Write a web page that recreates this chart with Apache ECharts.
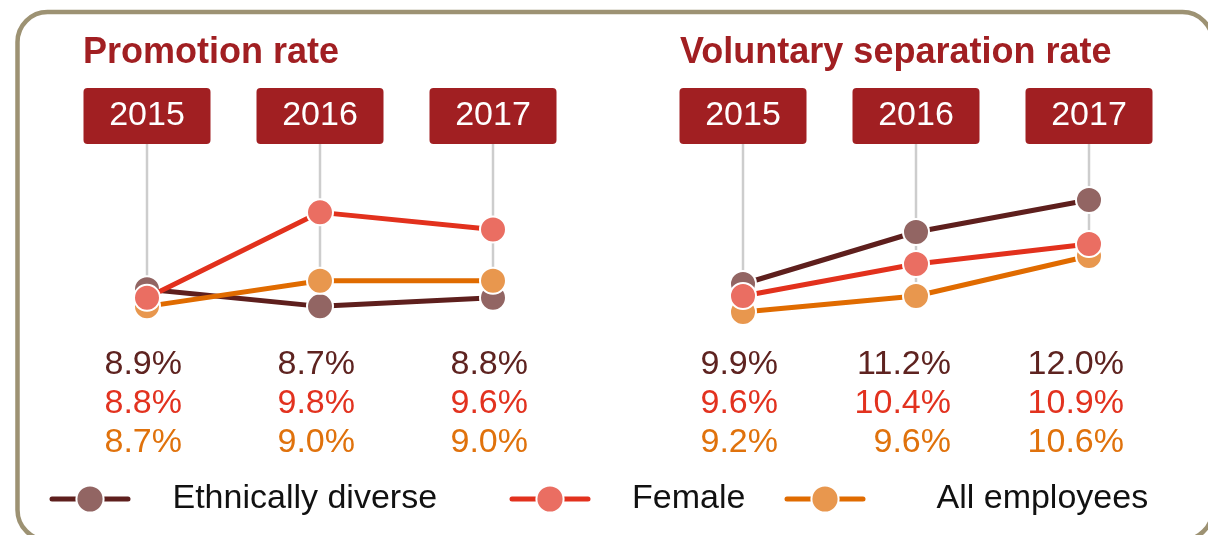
<!DOCTYPE html>
<html>
<head>
<meta charset="utf-8">
<script src="https://cdn.jsdelivr.net/npm/echarts@6.0.0/dist/echarts.min.js"></script>
<style>
  html, body { margin: 0; padding: 0; background: #ffffff; }
  #chart { width: 1208px; height: 535px; }
</style>
</head>
<body>
<div id="chart"></div>
<script>
// ---- data ----
const years = ['2015', '2016', '2017'];
const seriesNames = ['Ethnically diverse', 'Female', 'All employees'];
const panelTitles = ['Promotion rate', 'Voluntary separation rate'];

const promoEthnic = [8.9, 8.7, 8.8];
const promoFemale = [8.8, 9.8, 9.6];
const promoAll    = [8.7, 9.0, 9.0];

const sepEthnic = [9.9, 11.2, 12.0];
const sepFemale = [9.6, 10.4, 10.9];
const sepAll    = [9.2, 9.6, 10.6];

// ---- styles ----
const FONT = '"Liberation Sans", Arial, Helvetica, sans-serif';
const DARK_RED = '#A11F22';
const lineColors   = ['#5E1F1D', '#E2311D', '#E06B00'];
const markerColors = ['#926563', '#EA6E62', '#E8974E'];
const textColors   = ['#5E2320', '#E2321F', '#E0720C'];

const panels = [
  { data: [promoEthnic, promoFemale, promoAll], left: 60.5, min: 8.4, max: 10.6 },
  { data: [sepEthnic, sepFemale, sepAll], left: 656.5, min: 8.7, max: 13.4 }
];

const GRID_TOP = 144, GRID_H = 188, GRID_W = 519;

const grids = panels.map(p => ({ left: p.left, top: GRID_TOP, width: GRID_W, height: GRID_H }));

const xAxes = panels.map((p, i) => ({
  type: 'category',
  gridIndex: i,
  position: 'top',
  data: years,
  boundaryGap: true,
  axisLine: { show: false },
  axisTick: { show: false },
  splitLine: { show: false },
  axisLabel: {
    margin: 0,
    interval: 0,
    formatter: v => '{y|' + v + '}',
    rich: {
      y: {
        backgroundColor: DARK_RED,
        color: '#ffffff',
        fontSize: 34,
        fontFamily: FONT,
        width: 127,
        height: 56,
        lineHeight: 56,
        align: 'center',
        borderRadius: 4
      }
    }
  }
}));

const yAxes = panels.map((p, i) => ({
  type: 'value',
  gridIndex: i,
  min: p.min,
  max: p.max,
  show: false
}));

const series = [];
// drawing order: ethnic (bottom), all employees, female (top)
const drawOrder = [0, 2, 1];

panels.forEach((p, pi) => {
  // vertical guide lines from the year box down to the lowest point
  series.push({
    type: 'custom',
    xAxisIndex: pi,
    yAxisIndex: pi,
    z: 1,
    silent: true,
    clip: false,
    data: years.map((_, i) => [i, Math.min(p.data[0][i], p.data[1][i], p.data[2][i])]),
    renderItem: (params, api) => {
      const pt = api.coord([api.value(0), api.value(1)]);
      const top = params.coordSys.y;
      return {
        type: 'line',
        shape: { x1: pt[0], y1: top, x2: pt[0], y2: pt[1] },
        style: { stroke: '#CDCDCD', lineWidth: 2.5 }
      };
    }
  });

  drawOrder.forEach((si, k) => {
    series.push({
      type: 'line',
      name: seriesNames[si],
      xAxisIndex: pi,
      yAxisIndex: pi,
      data: p.data[si],
      z: 2 + k,
      symbol: 'circle',
      symbolSize: 26,
      lineStyle: { color: lineColors[si], width: 5 },
      itemStyle: { color: markerColors[si], borderColor: '#ffffff', borderWidth: 2 },
      emphasis: { disabled: true },
      silent: true
    });
  });

  // value labels under each year
  series.push({
    type: 'custom',
    xAxisIndex: pi,
    yAxisIndex: pi,
    z: 10,
    silent: true,
    clip: false,
    data: years.map((_, i) => [i, p.data[0][i], p.data[1][i], p.data[2][i]]),
    renderItem: (params, api) => {
      const x = api.coord([api.value(0), api.value(1)])[0] + 35;
      const base = params.coordSys.y + params.coordSys.height;
      const offs = [32.5, 71.5, 111];
      const children = [0, 1, 2].map(r => ({
        type: 'text',
        style: {
          text: api.value(1 + r).toFixed(1) + '%',
          x: x,
          y: base + offs[r],
          fill: textColors[r],
          fontSize: 34,
          fontFamily: FONT,
          align: 'right',
          verticalAlign: 'middle'
        }
      }));
      return { type: 'group', children: children };
    }
  });
});

const legendLefts = [49.5, 509.5, 784.5];
const legendTextGaps = [39.5, 39, 68.5];
const legends = seriesNames.map((n, i) => ({
  data: [n],
  left: legendLefts[i],
  top: 482,
  padding: 0,
  itemWidth: 76,
  itemHeight: 34,
  selectedMode: false,
  lineStyle: { width: 5, cap: 'round' },
  textStyle: { fontSize: 34, color: '#111111', fontFamily: FONT, padding: [0, 0, 0, legendTextGaps[i]] }
}));

const titleLefts = [83, 680];
const titles = panelTitles.map((t, i) => ({
  text: t,
  left: titleLefts[i],
  top: 35,
  padding: 0,
  textStyle: { fontSize: 36, fontWeight: 'bold', color: DARK_RED, fontFamily: FONT }
}));

const chart = echarts.init(document.getElementById('chart'), null, { renderer: 'canvas' });
chart.setOption({
  animation: false,
  backgroundColor: '#ffffff',
  title: titles,
  legend: legends,
  grid: grids,
  xAxis: xAxes,
  yAxis: yAxes,
  series: series,
  graphic: [{
    type: 'rect',
    silent: true,
    z: -1,
    shape: { x: 17.5, y: 12, width: 1195, height: 528, r: 30 },
    style: { fill: 'none', stroke: '#9D9273', lineWidth: 4.5 }
  }]
});
</script>
</body>
</html>
